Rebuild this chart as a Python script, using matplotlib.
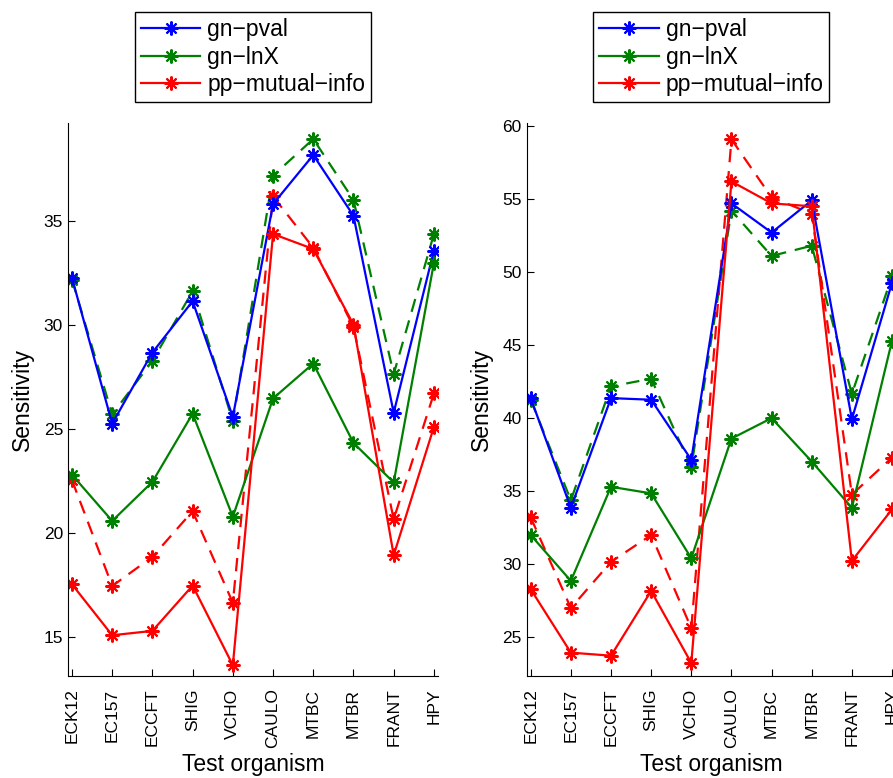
import numpy as np
import matplotlib.pyplot as plt

plt.rcParams['font.family'] = ['Liberation Sans', 'DejaVu Sans']

organisms = ['ECK12', 'EC157', 'ECCFT', 'SHIG', 'VCHO',
             'CAULO', 'MTBC', 'MTBR', 'FRANT', 'HPY']
labels = ['gn\u2212pval', 'gn\u2212lnX', 'pp\u2212mutual\u2212info']

# left panel
left_pval = [32.25, 25.24, 28.66, 31.13, 25.56, 35.8, 38.16, 35.24, 25.76, 33.56]
left_lnx = [22.78, 20.56, 22.44, 25.72, 20.76, 26.45, 28.13, 24.31, 22.41, 32.97]
left_lnx_d = [32.17, 25.68, 28.26, 31.61, 25.35, 37.17, 38.93, 36.0, 27.62, 34.36]
left_mi = [17.51, 15.06, 15.27, 17.45, 13.62, 34.36, 33.64, 30.0, 18.91, 25.08]
left_mi_d = [22.52, 17.43, 18.83, 21.03, 16.62, 36.17, 33.7, 29.9, 20.64, 26.69]

# right panel
right_pval = [41.37, 33.86, 41.37, 41.26, 37.15, 54.7, 52.7, 54.9, 39.93, 49.27]
right_lnx = [32.0, 28.86, 35.3, 34.85, 30.41, 38.6, 40.0, 37.03, 33.86, 45.3]
right_lnx_d = [41.26, 34.38, 42.17, 42.7, 36.64, 54.2, 51.1, 51.8, 41.66, 49.7]
right_mi = [28.29, 23.95, 23.74, 28.17, 23.24, 56.2, 54.7, 54.5, 30.23, 33.76]
right_mi_d = [33.21, 27.0, 30.16, 32.0, 25.62, 59.08, 55.11, 53.99, 34.77, 37.3]

blue = (0, 0, 1)
green = (0, 0.5, 0)
red = (1, 0, 0)
star = (8, 2, 0)

fig = plt.figure(figsize=(8.93, 7.78), dpi=100)
ax1 = fig.add_axes([0.0761, 0.1311, 0.4143, 0.7108])
ax2 = fig.add_axes([0.5898, 0.1311, 0.4136, 0.7108])

x = np.arange(1, len(organisms) + 1)


def draw(ax, pval, lnx, lnx_d, mi, mi_d, ylim, yticks):
    kw = dict(marker=star, markersize=10, markeredgewidth=1.5, linewidth=1.6)
    ax.plot(x, lnx_d, color=green, linestyle=(0, (6, 4)), **kw)
    ax.plot(x, mi_d, color=red, linestyle=(0, (6, 4)), **kw)
    h1, = ax.plot(x, pval, color=blue, label=labels[0], **kw)
    h2, = ax.plot(x, lnx, color=green, label=labels[1], **kw)
    h3, = ax.plot(x, mi, color=red, label=labels[2], **kw)
    ax.set_xlim(0.9, 10.1)
    ax.set_ylim(*ylim)
    ax.set_yticks(yticks)
    ax.set_xticks(x)
    ax.set_xticklabels(organisms, rotation=90, fontsize=12.5)
    ax.tick_params(axis='y', labelsize=12.5)
    ax.tick_params(axis='x', pad=9)
    ax.tick_params(direction='in', length=5, width=0.8, top=False, right=False)
    for s in ['top', 'right']:
        ax.spines[s].set_visible(False)
    ax.set_xlabel('Test organism', fontsize=16.5, labelpad=3)
    ax.set_ylabel('Sensitivity', fontsize=16.5, labelpad=7)
    leg = ax.legend(handles=[h1, h2, h3], loc='lower center',
                    bbox_to_anchor=(0.5, 1.038), fontsize=16.5, numpoints=1,
                    handlelength=2.6, handletextpad=0.3, labelspacing=0.2,
                    borderpad=0.25, fancybox=False,
                    framealpha=1, borderaxespad=0)
    leg.get_frame().set_edgecolor('black')
    leg.get_frame().set_linewidth(1.0)


draw(ax1, left_pval, left_lnx, left_lnx_d, left_mi, left_mi_d,
     (13.1, 39.7), [15, 20, 25, 30, 35])
draw(ax2, right_pval, right_lnx, right_lnx_d, right_mi, right_mi_d,
     (22.35, 60.2), [25, 30, 35, 40, 45, 50, 55, 60])

fig.savefig('out.png', dpi=100)
